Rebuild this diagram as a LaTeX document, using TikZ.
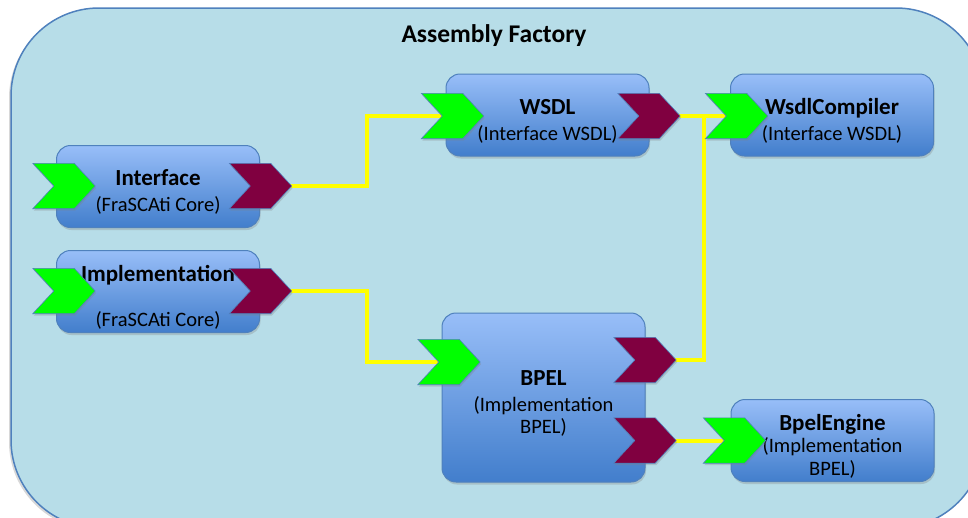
\documentclass[tikz,border=0pt]{standalone}
\usepackage{fontspec}
\setmainfont{Carlito}
\usetikzlibrary{shadows}
\definecolor{fond}{RGB}{183,221,232}
\definecolor{bord}{RGB}{79,129,189}
\definecolor{haut}{RGB}{152,190,248}
\definecolor{bas}{RGB}{66,126,204}
\definecolor{vert}{RGB}{0,255,0}
\definecolor{bordeaux}{RGB}{128,0,64}
\definecolor{jaune}{RGB}{255,255,0}
\pgfdeclarelayer{back}
\pgfdeclarelayer{wires}
\pgfsetlayers{back,wires,main}
\tikzset{
  boite/.style={draw=bord, line width=1pt, rounded corners=14pt, top color=haut, bottom color=bas,
    minimum width=203pt, minimum height=82pt, align=center, font=\fontsize{20.5}{26}\selectfont,
    drop shadow={opacity=0.3, shadow xshift=1pt, shadow yshift=-2.5pt}},
  port/.style={inner sep=0pt, minimum width=62pt, minimum height=45pt},
  fleche/.style={draw=bord, line width=0.6pt, drop shadow={opacity=0.3, shadow xshift=1pt, shadow yshift=-2pt}},
  fil/.style={jaune, line width=4pt}
}
\newcommand{\nm}[1]{{\fontsize{23}{26}\selectfont\bfseries\rule{0pt}{27pt}#1}}
\newcommand{\chev}[3]{\node[port] (#1) at (#2) {};
  \draw[fleche, fill=#3] (#1.north west) -- ([xshift=-21pt]#1.north east) -- (#1.east)
    -- ([xshift=-21pt]#1.south east) -- (#1.south west) -- ([xshift=21pt]#1.west) -- cycle;}
\begin{document}
\begin{tikzpicture}[x=1pt,y=-1pt]
\useasboundingbox (0,0) rectangle (968,517);
\begin{pgfonlayer}{back}
\fill[white] (0,0) rectangle (968,517);
\draw[draw=bord, line width=1.5pt, fill=fond, rounded corners=88pt,
  drop shadow={opacity=0.3, shadow xshift=-2pt, shadow yshift=-2pt}] (11,8) rectangle (984,528);
\end{pgfonlayer}
\node[font=\fontsize{25.5}{30}\selectfont\bfseries] (titre) at (494,36) {Assembly Factory};
\node[boite] (iface) at (158,186.5) {\nm{Interface}\\(FraSCAti Core)};
\node[boite] (impl) at (158,291.5) {\nm{Implementation}\\[19pt](FraSCAti Core)};
\node[boite] (wsdl) at (547.5,115) {\nm{WSDL}\\(Interface WSDL)};
\node[boite] (wcomp) at (832,115) {\nm{WsdlCompiler}\\(Interface WSDL)};
\node[boite, minimum height=169pt] (bpel) at (543.5,397.5) {\nm{BPEL}\\(Implementation\\[-4pt]BPEL)};
\node[boite] (beng) at (832.5,440.5) {\nm{BpelEngine}\\[-4pt](Implementation\\[-3pt]BPEL)};
\chev{ifin}{64,186}{vert}
\chev{ifout}{260.5,186}{bordeaux}
\chev{imin}{64,291}{vert}
\chev{imout}{260.5,291}{bordeaux}
\chev{wsin}{452.5,116}{vert}
\chev{wsout}{649,116}{bordeaux}
\chev{wcin}{736.5,116}{vert}
\chev{bin}{449,362}{vert}
\chev{bo1}{645,360}{bordeaux}
\chev{bo2}{645,440.5}{bordeaux}
\chev{bein}{734.5,440.5}{vert}
\begin{pgfonlayer}{wires}
\draw[fil] (ifout.center) -| ([xshift=-85.5pt]wsin.center) -- (wsin.center);
\draw[fil] (imout.center) -| ([xshift=-82pt]bin.center) -- (bin.center);
\draw[fil] (wsout.center) -- (wcin.center);
\draw[fil] (bo1.center) -| ([xshift=-32.5pt]wcin.center);
\draw[fil] (bo2.center) -- (bein.center);
\end{pgfonlayer}
\end{tikzpicture}
\end{document}
